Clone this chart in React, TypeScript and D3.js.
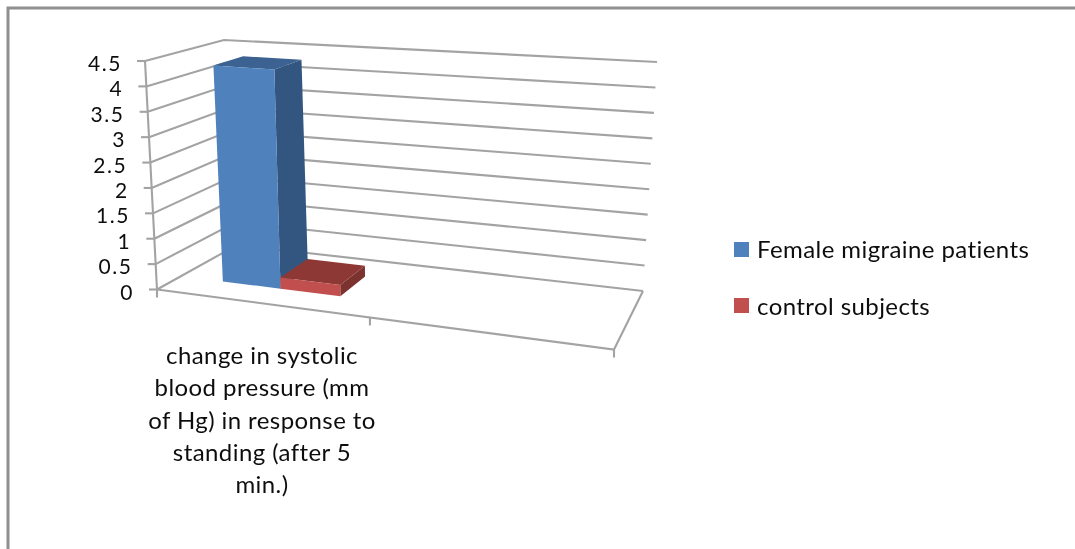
import React from "react";
import * as d3 from "d3";

const categories = ["change in systolic blood pressure (mm of Hg) in response to standing (after 5 min.)", ""];
const categoryLines = ["change in systolic", "blood pressure (mm", "of Hg) in response to", "standing (after 5", "min.)"];
const seriesNames = ["Female migraine patients", "control subjects"];
const femaleValues = [4.34, 0];
const controlValues = [0.22, 0];
const yTicks = [0, 0.5, 1, 1.5, 2, 2.5, 3, 3.5, 4, 4.5];
const yTickLabels = ["0", "0.5", "1", "1.5", "2", "2.5", "3", "3.5", "4", "4.5"];

const W = 1075, H = 549;
const FONT = "Lato, 'Open Sans', sans-serif";
const GRID = "#a3a3a3";

// Box corners of the pseudo-3D plot [x, y]
const floorFL: [number, number] = [157, 289.5];
const floorFR: [number, number] = [614, 349.5];
const floorBL: [number, number] = [237, 245];
const floorBR: [number, number] = [643, 291];
const topFL: [number, number] = [145, 61];
const topFR: [number, number] = [628, 94];
const topBL: [number, number] = [224, 40];
const topBR: [number, number] = [657, 62];

const yScale = d3.scaleLinear().domain([0, 4.5]).range([0, 1]);
const xBand = d3.scaleBand().domain(categories).range([0, 1]);
const xSeries = d3.scaleBand().domain(seriesNames).range([0, xBand.bandwidth()]).paddingOuter(0.75).paddingInner(0);
const depth = d3.scaleLinear().domain([0, 1]).range([0.3, 0.7]);

const K = 1.146; // horizontal foreshortening
const warp = (u: number) => u / (u + K * (1 - u));
const mix = (a: number, b: number, t: number) => a + (b - a) * t;

function project(u: number, w: number, v: number): [number, number] {
  const uu = warp(u);
  const t = yScale(v);
  const out: [number, number] = [0, 0];
  for (const i of [0, 1]) {
    const bottom = mix(mix(floorFL[i], floorFR[i], uu), mix(floorBL[i], floorBR[i], uu), w);
    const top = mix(mix(topFL[i], topFR[i], uu), mix(topBL[i], topBR[i], uu), w);
    out[i] = mix(bottom, top, t);
  }
  return out;
}

const line = d3.line<[number, number]>();
const poly = (pts: [number, number][]) => line(pts)! + "Z";

const seriesColors = [
  { front: "#4f81bd", side: "#335680", top: "#3a6291" },
  { front: "#c0504d", side: "#7c302e", top: "#8e3836" },
];
const seriesValues = [femaleValues, controlValues];

export default function App() {
  const cat = categories[0];
  const bars = seriesNames.map((name, i) => {
    const u0 = xBand(cat)! + xSeries(name)!;
    const u1 = u0 + xSeries.bandwidth();
    const w0 = depth(0), w1 = depth(1);
    const v = seriesValues[i][0];
    return {
      name,
      c: seriesColors[i],
      front: poly([project(u0, w0, 0), project(u1, w0, 0), project(u1, w0, v), project(u0, w0, v)]),
      side: poly([project(u1, w0, 0), project(u1, w1, 0), project(u1, w1, v), project(u1, w0, v)]),
      top: poly([project(u0, w0, v), project(u1, w0, v), project(u1, w1, v), project(u0, w1, v)]),
    };
  });
  const xTickPos = [0, 0.5, 1];
  return (
    <svg width={W} height={H} viewBox={`0 0 ${W} ${H}`} style={{ position: "absolute", left: 0, top: 0, display: "block", background: "#fff" }}>
      <defs>
        <filter id="soft" x="-5%" y="-5%" width="110%" height="110%">
          <feGaussianBlur stdDeviation="0.5" />
        </filter>
      </defs>
      <g filter="url(#soft)">
        <path d={`M8 549V8H1075`} fill="none" stroke="#8f8f8f" strokeWidth={3} />
        {yTicks.map((v) => (
          <path key={v} d={line([project(0, 0, v), project(0, 1, v), project(1, 1, v)])!} fill="none" stroke={GRID} strokeWidth={2.1} />
        ))}
        <path d={line([project(0, 0, 0), project(0, 0, 4.5)])!} fill="none" stroke={GRID} strokeWidth={2.1} />
        <path d={line([project(0, 0, 0), project(1, 0, 0), project(1, 1, 0)])!} fill="none" stroke={GRID} strokeWidth={2.1} />
        {yTicks.map((v) => {
          const [x, y] = project(0, 0, v);
          return <path key={v} d={`M${x} ${y}H${x - 8}`} stroke={GRID} strokeWidth={2.1} />;
        })}
        {xTickPos.map((u) => {
          const [x, y] = project(u, 0, 0);
          return <path key={u} d={`M${x} ${y}V${y + 8}`} stroke={GRID} strokeWidth={2.1} />;
        })}
        {bars.map((b) => (
          <g key={b.name}>
            <path d={b.side} fill={b.c.side} />
            <path d={b.top} fill={b.c.top} />
            <path d={b.front} fill={b.c.front} />
          </g>
        ))}
        <g fontFamily={FONT} fontSize={21} fill="#111" letterSpacing={1.6}>
          {yTicks.map((v, i) => {
            const [x, y] = project(0, 0, v);
            return (
              <text key={v} x={x - 23} y={y + 10} textAnchor="end">
                {yTickLabels[i]}
              </text>
            );
          })}
        </g>
        <g fontFamily={FONT} fontSize={24} fill="#111" letterSpacing={0.42}>
          {categoryLines.map((t, i) => (
            <text key={t} x={262} y={364 + i * 32.3} textAnchor="middle">
              {t}
            </text>
          ))}
          {seriesNames.map((n, i) => (
            <g key={n}>
              <rect x={734} y={242 + i * 56} width={15} height={15} fill={seriesColors[i].front} />
              <text x={757} y={258 + i * 57}>
                {n}
              </text>
            </g>
          ))}
        </g>
      </g>
    </svg>
  );
}
